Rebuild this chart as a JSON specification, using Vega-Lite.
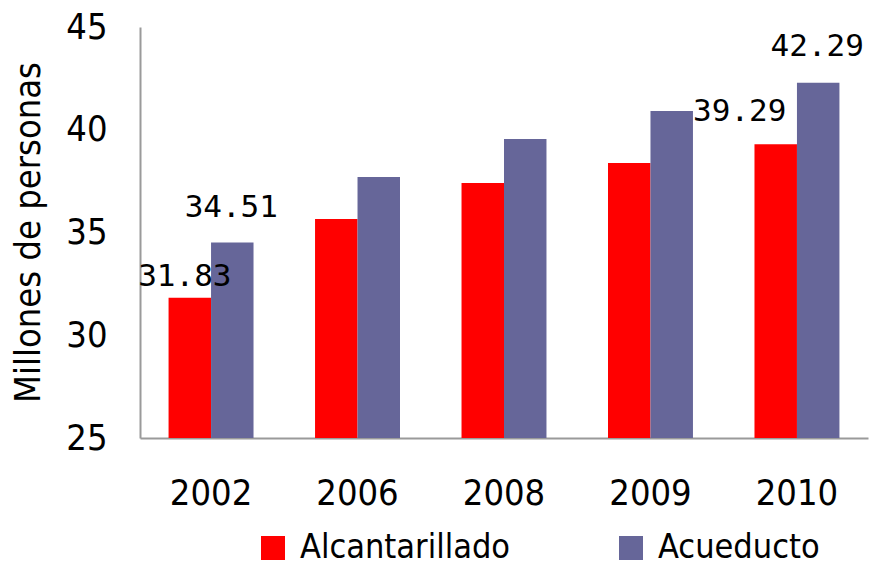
{
  "$schema": "https://vega.github.io/schema/vega-lite/v6.json",
  "width": 728,
  "height": 411,
  "autosize": "none",
  "padding": {"left": 140, "top": 27, "right": 1, "bottom": 129},
  "background": "white",
  "config": {"view": {"stroke": null}, "font": "DejaVu Sans Condensed"},
  "data": {
    "values": [
      {"year": "2002", "series": "Alcantarillado", "value": 31.83},
      {"year": "2002", "series": "Acueducto", "value": 34.51},
      {"year": "2006", "series": "Alcantarillado", "value": 35.66},
      {"year": "2006", "series": "Acueducto", "value": 37.7},
      {"year": "2008", "series": "Alcantarillado", "value": 37.41},
      {"year": "2008", "series": "Acueducto", "value": 39.55},
      {"year": "2009", "series": "Alcantarillado", "value": 38.38},
      {"year": "2009", "series": "Acueducto", "value": 40.91},
      {"year": "2010", "series": "Alcantarillado", "value": 39.29},
      {"year": "2010", "series": "Acueducto", "value": 42.29}
    ]
  },
  "encoding": {
    "x": {
      "field": "year",
      "type": "nominal",
      "sort": null,
      "scale": {"paddingInner": 0.42, "paddingOuter": 0.195},
      "axis": {
        "title": null,
        "labelAngle": 0,
        "ticks": false,
        "domainColor": "#9a9a9a",
        "domainWidth": 2,
        "labelFontSize": 36,
        "labelColor": "#000000",
        "labelPadding": 38,
        "labelFont": "DejaVu Sans Condensed"
      }
    },
    "xOffset": {
      "field": "series",
      "type": "nominal",
      "sort": ["Alcantarillado", "Acueducto"],
      "scale": {"paddingInner": 0, "paddingOuter": 0}
    },
    "y": {
      "field": "value",
      "type": "quantitative",
      "scale": {"domain": [25, 45], "zero": false, "nice": false},
      "axis": {
        "values": [25, 30, 35, 40, 45],
        "ticks": false,
        "grid": false,
        "domainColor": "#9a9a9a",
        "domainWidth": 2,
        "labelFontSize": 36,
        "labelColor": "#000000",
        "labelPadding": 33,
        "labelFont": "DejaVu Sans Condensed",
        "title": "Millones de personas",
        "titleFont": "DejaVu Sans Condensed",
        "titleFontSize": 36,
        "titleFontWeight": "normal",
        "titleColor": "#000000",
        "titleX": -112,
        "titleY": 205,
        "titleAngle": 270,
        "titleAlign": "center",
        "titleBaseline": "middle"
      }
    }
  },
  "layer": [
    {
      "mark": {"type": "bar", "clip": true},
      "encoding": {
        "color": {
          "field": "series",
          "type": "nominal",
          "sort": ["Alcantarillado", "Acueducto"],
          "scale": {"domain": ["Alcantarillado", "Acueducto"], "range": ["#FF0000", "#666699"]},
          "legend": {
            "title": null,
            "orient": "none",
            "legendX": 116,
            "legendY": 504,
            "direction": "horizontal",
            "symbolType": "square",
            "symbolSize": 576,
            "symbolStrokeWidth": 0,
            "labelFontSize": 34,
            "labelFont": "DejaVu Sans Condensed",
            "labelColor": "#000000",
            "labelOffset": 10,
            "labelLimit": 400,
            "columnPadding": 103,
            "padding": 0
          }
        }
      }
    },
    {
      "transform": [{"filter": "datum.year == '2002' && datum.series == 'Alcantarillado'"}],
      "mark": {"type": "text", "dx": -5, "dy": -12, "baseline": "alphabetic", "font": "DejaVu Sans Mono", "fontSize": 31, "color": "#000000"},
      "encoding": {"text": {"field": "value", "type": "quantitative", "format": ".2f"}}
    },
    {
      "transform": [{"filter": "datum.year == '2002' && datum.series == 'Acueducto'"}],
      "mark": {"type": "text", "dx": -1, "dy": -26, "baseline": "alphabetic", "font": "DejaVu Sans Mono", "fontSize": 31, "color": "#000000"},
      "encoding": {"text": {"field": "value", "type": "quantitative", "format": ".2f"}}
    },
    {
      "transform": [{"filter": "datum.year == '2010' && datum.series == 'Alcantarillado'"}],
      "mark": {"type": "text", "dx": -36, "dy": -23, "baseline": "alphabetic", "font": "DejaVu Sans Mono", "fontSize": 31, "color": "#000000"},
      "encoding": {"text": {"field": "value", "type": "quantitative", "format": ".2f"}}
    },
    {
      "transform": [{"filter": "datum.year == '2010' && datum.series == 'Acueducto'"}],
      "mark": {"type": "text", "dx": -1, "dy": -27, "baseline": "alphabetic", "font": "DejaVu Sans Mono", "fontSize": 31, "color": "#000000"},
      "encoding": {"text": {"field": "value", "type": "quantitative", "format": ".2f"}}
    }
  ]
}
